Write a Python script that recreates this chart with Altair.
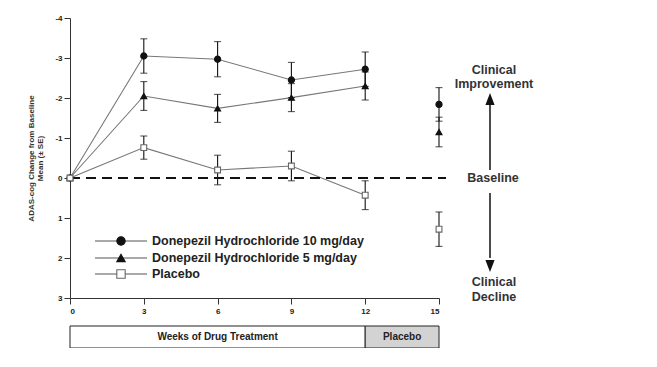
import altair as alt
import pandas as pd

# ---------------- data ----------------
weeks = [0, 3, 6, 9, 12, 15]
series = ["Donepezil Hydrochloride 10 mg/day", "Donepezil Hydrochloride 5 mg/day", "Placebo"]
d10_mean = [0, -3.05, -2.97, -2.45, -2.72, -1.84]
d10_se = [0, 0.43, 0.44, 0.44, 0.43, 0.42]
d5_mean = [0, -2.05, -1.74, -2.01, -2.30, -1.15]
d5_se = [0, 0.36, 0.35, 0.35, 0.35, 0.37]
pl_mean = [0, -0.76, -0.20, -0.30, 0.43, 1.28]
pl_se = [0, 0.29, 0.37, 0.37, 0.36, 0.43]
y_ticks = [-4, -3, -2, -1, 0, 1, 2, 3]
phase_labels = ["Weeks of Drug Treatment", "Placebo"]
phase_start = [0, 12]
phase_end = [12, 15]

rows = []
for s, means, ses in zip(series, [d10_mean, d5_mean, pl_mean], [d10_se, d5_se, pl_se]):
    for w, m, e in zip(weeks, means, ses):
        rows.append({"series": s, "week": w, "mean": m, "lo": m - e, "hi": m + e, "se": e})
df = pd.DataFrame(rows)

shape_scale = alt.Scale(domain=series, range=["circle", "triangle-up", "square"])
fill_scale = alt.Scale(domain=series, range=["#111111", "#111111", "#ffffff"])
stroke_scale = alt.Scale(domain=series, range=["#111111", "#111111", "#666666"])
size_scale = alt.Scale(domain=series, range=[38, 34, 24])
leg_size_scale = alt.Scale(domain=series, range=[80, 55, 50])

x_axis = alt.Axis(values=weeks, title=None, grid=False, tickSize=6,
                  labelFontSize=8, labelFontWeight="bold", labelColor="#222",
                  domainColor="#333", tickColor="#333", labelPadding=3,
                  labelOverlap=False)
x_scale = alt.Scale(domain=[0, 15], nice=False, zero=False)
y_axis = alt.Axis(values=y_ticks, tickCount=8, grid=False, tickSize=6, labelFontSize=8,
                  labelFontWeight="bold", labelColor="#222", domainColor="#333",
                  tickColor="#333", labelExpr="'' + datum.value", labelPadding=2,
                  labelOverlap=False, labelFlush=False, labelBound=False,
                  title=["ADAS-cog Change from Baseline", "Mean (\u00b1 SE)"],
                  titleFontSize=8, titleFontWeight="bold", titleColor="#333",
                  titlePadding=10, titleLineHeight=9)
y_scale = alt.Scale(domain=[-4, 3], reverse=True, nice=False, zero=False)


def X(f):
    return alt.X(f, scale=x_scale, axis=x_axis)


def Y(f):
    return alt.Y(f, scale=y_scale, axis=y_axis)


base = alt.Chart(df)

lines = base.transform_filter("datum.week <= 12").mark_line(color="#777777", strokeWidth=1.1).encode(
    x=X("week:Q"), y=Y("mean:Q"), detail="series:N")

ebars = base.transform_filter("datum.se > 0").mark_rule(color="#111", strokeWidth=1.1).encode(
    x=X("week:Q"), y=Y("lo:Q"), y2="hi:Q")
caps_lo = base.transform_filter("datum.se > 0").mark_tick(
    orient="horizontal", size=7, thickness=1.1, color="#111").encode(x=X("week:Q"), y=Y("lo:Q"))
caps_hi = base.transform_filter("datum.se > 0").mark_tick(
    orient="horizontal", size=7, thickness=1.1, color="#111").encode(x=X("week:Q"), y=Y("hi:Q"))

points = base.mark_point(filled=True, opacity=1, strokeWidth=1.1).encode(
    x=X("week:Q"), y=Y("mean:Q"),
    shape=alt.Shape("series:N", scale=shape_scale, legend=None),
    fill=alt.Fill("series:N", scale=fill_scale, legend=None),
    stroke=alt.Stroke("series:N", scale=stroke_scale, legend=None),
    size=alt.Size("series:N", scale=size_scale, legend=None))

baseline = alt.Chart(pd.DataFrame({"v": [0]})).mark_rule(
    strokeDash=[10, 6], strokeWidth=2.2, color="#111").encode(
    y=Y("v:Q"), x=alt.value(0), x2=alt.value(376))

# ---------------- custom legend ----------------
leg = pd.DataFrame({"series": series, "ly": [223, 240, 256]})
leg_line = alt.Chart(leg).mark_rule(color="#555", strokeWidth=1.1).encode(
    x=alt.value(25), x2=alt.value(77), y=alt.Y("ly:Q", scale=None))
leg_pt = alt.Chart(leg).mark_point(filled=True, opacity=1, strokeWidth=1.1).encode(
    x=alt.value(51), y=alt.Y("ly:Q", scale=None),
    shape=alt.Shape("series:N", scale=shape_scale, legend=None),
    fill=alt.Fill("series:N", scale=fill_scale, legend=None),
    stroke=alt.Stroke("series:N", scale=stroke_scale, legend=None),
    size=alt.value(70))
leg_txt = alt.Chart(leg).mark_text(align="left", baseline="middle", fontSize=12.5,
                                   fontWeight="bold", color="#222").encode(
    x=alt.value(82), y=alt.Y("ly:Q", scale=None), text="series:N")

# ---------------- phase boxes ----------------
phases = pd.DataFrame({"label": phase_labels, "start": phase_start, "end": phase_end})
rect_drug = alt.Chart(phases).transform_filter("datum.start == 0").mark_rect(
    stroke="#222", strokeWidth=1, fill="#ffffff").encode(
    x=X("start:Q"), x2="end:Q", y=alt.value(308), y2=alt.value(330))
rect_pl = alt.Chart(phases).transform_filter("datum.start != 0").mark_rect(
    stroke="#222", strokeWidth=1, fill="#d3d3d3").encode(
    x=X("start:Q"), x2="end:Q", y=alt.value(308), y2=alt.value(330))
phase_txt = alt.Chart(phases).transform_calculate(mid="(datum.start + datum.end) / 2").mark_text(
    fontSize=10, fontWeight="bold", color="#222", baseline="middle").encode(
    x=X("mid:Q"), y=alt.value(319), text="label:N")

# ---------------- right annotations ----------------
ann = pd.DataFrame({"t": ["Clinical", "Improvement", "Baseline", "Clinical", "Decline"],
                    "ax": [424, 424, 423, 424, 424], "ay": [52, 66, 160, 264, 279]})
ann_txt = alt.Chart(ann).mark_text(fontSize=12.5, fontWeight="bold", color="#333",
                                   baseline="middle").encode(
    x=alt.X("ax:Q", scale=None), y=alt.Y("ay:Q", scale=None), text="t:N")
arrows = pd.DataFrame({"a1": [82, 175], "a2": [152, 240]})
arrow_lines = alt.Chart(arrows).mark_rule(color="#111", strokeWidth=1.5).encode(
    x=alt.value(420), y=alt.Y("a1:Q", scale=None), y2=alt.Y2("a2:Q"))
heads = pd.DataFrame({"hy": [81, 248], "dir": ["up", "down"]})
head_up = alt.Chart(heads).transform_filter("datum.dir == 'up'").mark_point(
    shape="M0,-1L-0.75,1L0.75,1Z", filled=True, color="#111", opacity=1, size=150).encode(
    x=alt.value(420), y=alt.Y("hy:Q", scale=None))
head_dn = alt.Chart(heads).transform_filter("datum.dir == 'down'").mark_point(
    shape="M0,1L-0.75,-1L0.75,-1Z", filled=True, color="#111", opacity=1, size=150).encode(
    x=alt.value(420), y=alt.Y("hy:Q", scale=None))

chart = alt.layer(
    lines, baseline, ebars, caps_lo, caps_hi, points,
    leg_line, leg_pt, leg_txt, rect_drug, rect_pl, phase_txt,
    arrow_lines, head_up, head_dn, ann_txt
).properties(
    width=369, height=280,
    autosize=alt.AutoSizeParams(type="none"),
    padding={"left": 62, "top": 10, "right": 200, "bottom": 50},
    background="white"
).configure_view(stroke=None).configure_text(font="Liberation Sans").configure_axis(
    labelFont="Liberation Sans", titleFont="Liberation Sans")

chart.save("out.html", embed_options={"renderer": "svg", "actions": False})
